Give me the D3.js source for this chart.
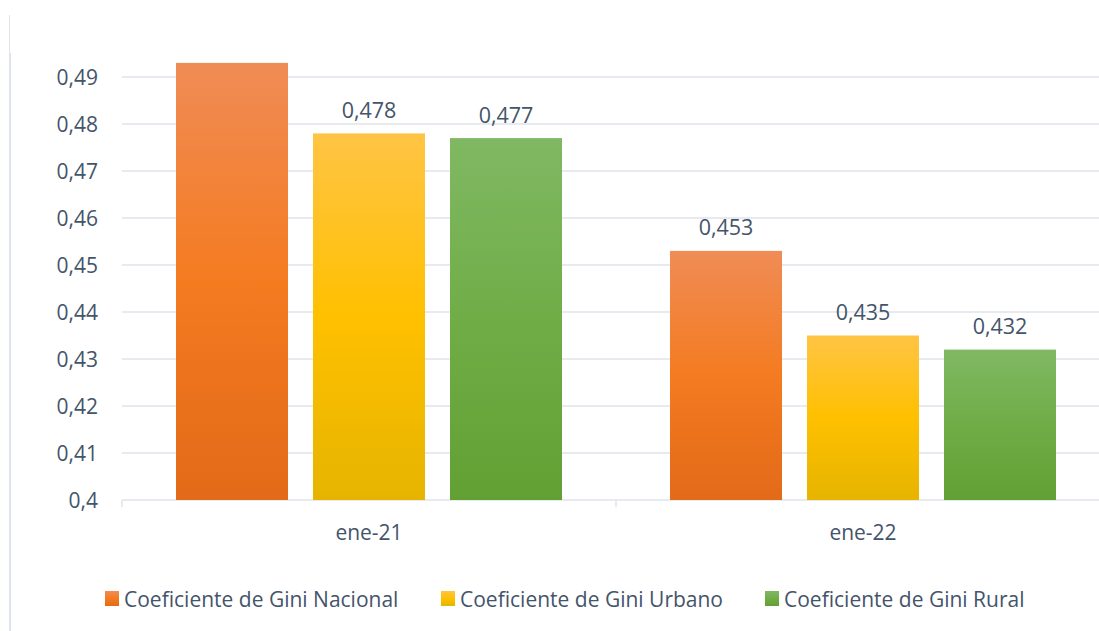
<!DOCTYPE html>
<html>
<head>
<meta charset="utf-8">
<script src="https://cdn.jsdelivr.net/npm/d3@7"></script>
<style>
  body { margin: 0; background: #fff; }
  text { font-family: "Open Sans", sans-serif; fill: #44546A; }
</style>
</head>
<body>
<svg id="chart" width="1099" height="631"></svg>
<script>
// --- data
const categories = ['ene-21', 'ene-22']
const series = ['Coeficiente de Gini Nacional', 'Coeficiente de Gini Urbano', 'Coeficiente de Gini Rural']
const nacional = [0.493, 0.453]
const urbano = [0.478, 0.435]
const rural = [0.477, 0.432]
const yTicks = [0.4, 0.41, 0.42, 0.43, 0.44, 0.45, 0.46, 0.47, 0.48, 0.49]
// first bar's label is not drawn in the original
const hiddenLabels = [[0, 0]]

const values = [nacional, urbano, rural]
const gradients = [
    ['#F08C56', '#F47B20', '#E36A18'],
    ['#FFC445', '#FFC000', '#E6B400'],
    ['#80B863', '#70AD47', '#62A033']
]

const svg = d3.select('#chart')
const fmt = v => String(v).replace('.', ',')

const plot = {left: 122, right: 1110, top: 30, bottom: 500}

const x = d3.scaleBand().domain(categories).range([plot.left, plot.right])
const xs = d3.scaleBand().domain(series)
    .range([54, x.bandwidth() - 54]).paddingInner(25 / 137)
const y = d3.scaleLinear().domain([0.4, 0.5]).range([plot.bottom, plot.top])

// gradients
const defs = svg.append('defs')
gradients.forEach((g, i) => {
    const lg = defs.append('linearGradient').attr('id', 'g' + i)
        .attr('x1', 0).attr('y1', 0).attr('x2', 0).attr('y2', 1)
    lg.append('stop').attr('offset', '0%').attr('stop-color', g[0])
    lg.append('stop').attr('offset', '50%').attr('stop-color', g[1])
    lg.append('stop').attr('offset', '100%').attr('stop-color', g[2])
})

// outer frame edge on the left
svg.append('line').attr('x1', 9.5).attr('x2', 9.5).attr('y1', 15).attr('y2', 53)
    .attr('stroke', '#e4e4e4').attr('stroke-width', 1)
svg.append('line').attr('x1', 10).attr('x2', 10).attr('y1', 53).attr('y2', 631)
    .attr('stroke', '#dde3ec').attr('stroke-width', 2)

// gridlines
svg.append('g').selectAll('line').data(yTicks).join('line')
    .attr('x1', plot.left).attr('x2', plot.right)
    .attr('y1', d => y(d)).attr('y2', d => y(d))
    .attr('stroke', '#dfe3ea').attr('stroke-width', 1.5)

// y tick labels
svg.append('g').selectAll('text').data(yTicks).join('text')
    .attr('x', 98).attr('y', d => y(d))
    .attr('text-anchor', 'end').attr('dominant-baseline', 'central')
    .style('font-size', '21px')
    .text(fmt)

// x axis ticks
const boundaries = [plot.left, x(categories[1]), plot.right]
svg.append('g').selectAll('line').data(boundaries).join('line')
    .attr('x1', d => d).attr('x2', d => d)
    .attr('y1', plot.bottom).attr('y2', plot.bottom + 7)
    .attr('stroke', '#dfe3ea').attr('stroke-width', 1.5)

svg.append('g').selectAll('text').data(categories).join('text')
    .attr('x', d => x(d) + x.bandwidth() / 2).attr('y', 532)
    .attr('text-anchor', 'middle').attr('dominant-baseline', 'central')
    .style('font-size', '21px')
    .text(d => d)

// bars + labels
series.forEach((s, si) => {
    const g = svg.append('g')
    g.selectAll('rect').data(categories).join('rect')
        .attr('x', d => x(d) + xs(s))
        .attr('width', xs.bandwidth())
        .attr('y', (d, ci) => y(values[si][ci]))
        .attr('height', (d, ci) => y(0.4) - y(values[si][ci]))
        .attr('fill', `url(#g${si})`)
    g.selectAll('text').data(categories).join('text')
        .filter((d, ci) => !hiddenLabels.some(h => h[0] === si && h[1] === ci))
        .attr('x', d => x(d) + xs(s) + xs.bandwidth() / 2)
        .attr('y', d => y(values[si][categories.indexOf(d)]) - 24)
        .attr('text-anchor', 'middle').attr('dominant-baseline', 'central')
        .style('font-size', '21.5px')
        .text(d => fmt(values[si][categories.indexOf(d)]))
})

// legend
const legendX = [105, 441, 765]
const legend = svg.append('g').selectAll('g').data(series).join('g')
    .attr('transform', (d, i) => `translate(${legendX[i]},599)`)
legend.append('rect').attr('x', 0).attr('y', -8).attr('width', 14).attr('height', 15)
    .attr('fill', (d, i) => `url(#g${i})`)
legend.append('text').attr('x', 19).attr('y', 0)
    .attr('dominant-baseline', 'central')
    .style('font-size', '21px')
    .text(d => d)
</script>
</body>
</html>
